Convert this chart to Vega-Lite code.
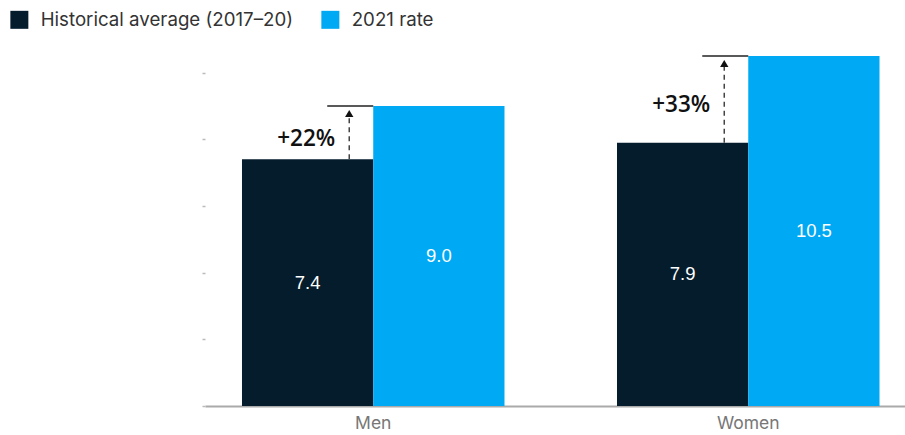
{
  "$schema": "https://vega.github.io/schema/vega-lite/v6.json",
  "width": 700,
  "height": 350,
  "autosize": {"type": "none"},
  "padding": {"left": 205, "top": 56, "right": 0, "bottom": 29},
  "background": "white",
  "config": {
    "view": {"stroke": null},
    "font": "Liberation Sans"
  },
  "datasets": {
    "rates": [
      {"group": "Men", "series": "Historical average (2017–20)", "rate": 7.4},
      {"group": "Men", "series": "2021 rate", "rate": 9.0},
      {"group": "Women", "series": "Historical average (2017–20)", "rate": 7.9},
      {"group": "Women", "series": "2021 rate", "rate": 10.5}
    ],
    "changes": [
      {"group": "Men", "base": 7.4, "top": 9.0, "change": "+22%"},
      {"group": "Women", "base": 7.9, "top": 10.5, "change": "+33%"}
    ]
  },
  "encoding": {
    "x": {
      "field": "group",
      "type": "nominal",
      "sort": ["Men", "Women"],
      "scale": {"paddingInner": 0.3, "paddingOuter": 0.0833, "align": 0.592},
      "axis": {
        "title": null,
        "labelAngle": 0,
        "labelFont": "Inter",
        "labelFontSize": 17.5,
        "labelColor": "#777777",
        "labelPadding": 8,
        "ticks": false,
        "domainColor": "#aaaaaa",
        "domainWidth": 2
      }
    }
  },
  "layer": [
    {
      "data": {"name": "rates"},
      "mark": {"type": "bar"},
      "encoding": {
        "xOffset": {
          "field": "series",
          "type": "nominal",
          "sort": ["Historical average (2017–20)", "2021 rate"],
          "scale": {"paddingInner": 0, "paddingOuter": 0}
        },
        "y": {
          "field": "rate",
          "type": "quantitative",
          "scale": {"domain": [0, 10.5], "nice": false},
          "axis": {
            "title": null,
            "values": [0, 2, 4, 6, 8, 10],
            "labels": false,
            "grid": false,
            "domain": false,
            "tickColor": "#bbbbbb",
            "tickSize": 3,
            "tickWidth": 1.5
          }
        },
        "color": {
          "field": "series",
          "type": "nominal",
          "sort": ["Historical average (2017–20)", "2021 rate"],
          "scale": {"range": ["#051c2c", "#00a9f4"]},
          "legend": {
            "title": null,
            "orient": "none",
            "legendX": -195,
            "legendY": -46,
            "direction": "horizontal",
            "symbolType": "square",
            "symbolSize": 324,
            "symbolStrokeWidth": 0,
            "symbolOpacity": 1,
            "labelFont": "Inter",
            "labelFontSize": 18.7,
            "labelColor": "#333333",
            "labelOffset": 12,
            "labelLimit": 400,
            "columnPadding": 27
          }
        }
      }
    },
    {
      "data": {"name": "rates"},
      "transform": [{"calculate": "datum.rate / 2", "as": "mid"}],
      "mark": {"type": "text", "color": "white", "fontSize": 18.5, "baseline": "middle"},
      "encoding": {
        "xOffset": {
          "field": "series",
          "type": "nominal",
          "sort": ["Historical average (2017–20)", "2021 rate"],
          "scale": {"paddingInner": 0, "paddingOuter": 0}
        },
        "y": {"field": "mid", "type": "quantitative"},
        "text": {"field": "rate", "type": "quantitative", "format": ".1f"}
      }
    },
    {
      "data": {"name": "changes"},
      "mark": {"type": "rule", "color": "#222222", "strokeWidth": 1.5, "xOffset": -46, "x2Offset": 0},
      "encoding": {
        "x": {"field": "group", "type": "nominal", "bandPosition": 0.5},
        "x2": {"field": "group", "bandPosition": 0.5},
        "y": {"field": "top", "type": "quantitative"}
      }
    },
    {
      "data": {"name": "changes"},
      "mark": {"type": "rule", "color": "#444444", "strokeWidth": 1.5, "strokeDash": [5, 4], "xOffset": -24, "y2Offset": 10},
      "encoding": {
        "x": {"field": "group", "type": "nominal", "bandPosition": 0.5},
        "y": {"field": "base", "type": "quantitative"},
        "y2": {"field": "top"}
      }
    },
    {
      "data": {"name": "changes"},
      "mark": {"type": "point", "shape": "triangle-up", "filled": true, "color": "#111111", "opacity": 1, "size": 70, "xOffset": -24, "yOffset": 7.5},
      "encoding": {
        "x": {"field": "group", "type": "nominal", "bandPosition": 0.5},
        "y": {"field": "top", "type": "quantitative"}
      }
    },
    {
      "data": {"name": "changes"},
      "transform": [{"calculate": "(datum.base + datum.top) / 2", "as": "midGap"}],
      "mark": {"type": "text", "font": "Open Sans", "fontWeight": 600, "fontSize": 22.5, "color": "#111111", "align": "right", "baseline": "middle", "dx": -38, "dy": 6},
      "encoding": {
        "x": {"field": "group", "type": "nominal", "bandPosition": 0.5},
        "y": {"field": "midGap", "type": "quantitative"},
        "text": {"field": "change"}
      }
    }
  ]
}
